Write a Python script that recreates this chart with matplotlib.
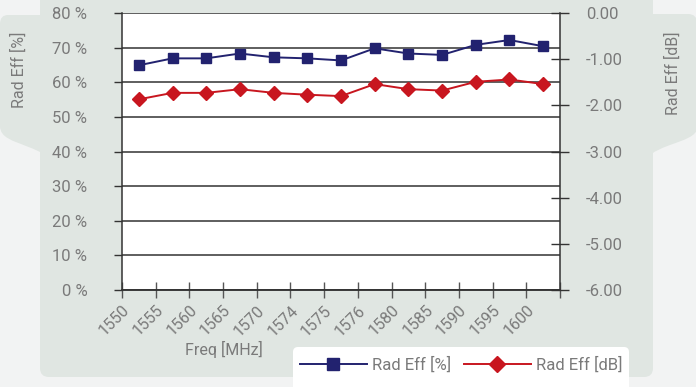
import numpy as np
import matplotlib.pyplot as plt
from matplotlib.patches import FancyBboxPatch, PathPatch
from matplotlib.path import Path
from matplotlib.ticker import FuncFormatter

plt.rcParams['font.family'] = ['Roboto', 'DejaVu Sans']

freqs = ['1550', '1555', '1560', '1565', '1570', '1574', '1575',
         '1576', '1580', '1585', '1590', '1595', '1600']
eff_pct = [64.9, 66.9, 66.9, 68.3, 67.2, 66.9, 66.3,
           69.8, 68.3, 67.9, 70.8, 72.2, 70.4]
eff_db = [-1.87, -1.73, -1.73, -1.65, -1.73, -1.77, -1.80,
          -1.54, -1.65, -1.68, -1.49, -1.44, -1.54]

blue = '#22226f'
red = '#c8161f'
txt = '#7a7a7a'
panel = '#e0e6e2'

W, H = 696, 387
fig = plt.figure(figsize=(W / 100, H / 100), dpi=100, facecolor='#f2f3f3')

# backdrop drawn in pixel coordinates (y pointing down)
bg = fig.add_axes([0, 0, 1, 1], zorder=0)
bg.set_xlim(0, W)
bg.set_ylim(H, 0)
bg.axis('off')

bg.add_patch(FancyBboxPatch((40, -20), 613, 397, boxstyle='round,pad=0,rounding_size=9',
                            fc=panel, ec='none'))

left_tab = Path([(45, 15), (8, 15), (0, 15), (0, 24), (0, 126),
                 (0, 138), (14, 141), (26, 146), (36, 150), (40, 151), (45, 156), (45, 15)],
                [Path.MOVETO, Path.LINETO, Path.CURVE3, Path.CURVE3, Path.LINETO,
                 Path.CURVE4, Path.CURVE4, Path.CURVE4, Path.CURVE4, Path.CURVE4, Path.CURVE4,
                 Path.CLOSEPOLY])
bg.add_patch(PathPatch(left_tab, fc=panel, ec='none'))

right_tab = Path([(648, 14), (688, 14), (697, 14), (697, 23), (697, 128),
                  (697, 136), (684, 140), (670, 145), (660, 149), (653, 151), (648, 158), (648, 14)],
                 [Path.MOVETO, Path.LINETO, Path.CURVE3, Path.CURVE3, Path.LINETO,
                  Path.CURVE4, Path.CURVE4, Path.CURVE4, Path.CURVE4, Path.CURVE4, Path.CURVE4,
                  Path.CLOSEPOLY])
bg.add_patch(PathPatch(right_tab, fc=panel, ec='none'))

# white legend card
bg.add_patch(FancyBboxPatch((293, 347), 336, 60, boxstyle='round,pad=0,rounding_size=5',
                            fc='white', ec='none'))

ax = fig.add_axes([122 / W, 1 - 290 / H, 438 / W, 277 / H], zorder=2)
ax.set_facecolor('white')
x = np.arange(len(freqs))

ax.plot(x, np.array(eff_pct) / 100, color=blue, lw=1.4, marker='s', ms=7.5,
        mec=blue, mfc=blue, label='Rad Eff [%]', zorder=4)
ax.set_ylim(0, 0.8)
ax.set_yticks(np.arange(0, 0.81, 0.1))
ax.yaxis.set_major_formatter(FuncFormatter(lambda v, p: f'{v * 100:.0f} %'))
ax.set_xlim(-0.5, len(freqs) - 0.5)
ax.set_xticks(np.arange(len(freqs) + 1) - 0.5)
ax.set_xticklabels(freqs + [''], rotation=45, ha='right', va='top', rotation_mode='anchor')
ax.grid(axis='y', color='#333333', lw=1.1)
ax.set_axisbelow(True)

ax2 = ax.twinx()
ax2.plot(x, eff_db, color=red, lw=1.4, marker='D', ms=7.5, mec=red, mfc=red,
         label='Rad Eff [dB]', zorder=4)
ax2.set_ylim(-6, 0)
ax2.set_yticks(np.arange(-6, 0.1, 1))
ax2.yaxis.set_major_formatter(FuncFormatter(lambda v, p: f'{v:.2f}'))

for a in (ax, ax2):
    a.spines['top'].set_visible(False)
    for s in a.spines.values():
        s.set_color('#333333')
        s.set_linewidth(1.1)
ax2.spines['left'].set_visible(False)
ax.spines['right'].set_visible(False)

ax.tick_params(axis='y', direction='out', length=6, width=1, color='#333333',
               labelsize=12, labelcolor=txt, pad=19)
ax.tick_params(axis='x', direction='inout', length=12, width=1, color='#555555',
               labelsize=11.5, labelcolor=txt, pad=3)
ax2.tick_params(axis='y', direction='inout', length=13, width=1, color='#333333',
                labelsize=12, labelcolor=txt, pad=12)

fig.text(224 / W, 1 - 349 / H, 'Freq [MHz]', color=txt, fontsize=11.5,
         ha='center', va='center')
fig.text(19 / W, 1 - 70 / H, 'Rad Eff [%]', color=txt, fontsize=11.5,
         ha='center', va='center', rotation=90)
fig.text(673 / W, 1 - 73 / H, 'Rad Eff [dB]', color=txt, fontsize=11.5,
         ha='center', va='center', rotation=90)

h1, l1 = ax.get_legend_handles_labels()
h2, l2 = ax2.get_legend_handles_labels()
fig.legend(h1 + h2, l1 + l2, loc='center', bbox_to_anchor=(461 / W, 1 - 365 / H),
           ncol=2, frameon=False, fontsize=12, labelcolor=txt, handlelength=4.0,
           handletextpad=0.3, columnspacing=0.8, markerscale=1.1)

fig.savefig('out.png', dpi=100, facecolor=fig.get_facecolor())
